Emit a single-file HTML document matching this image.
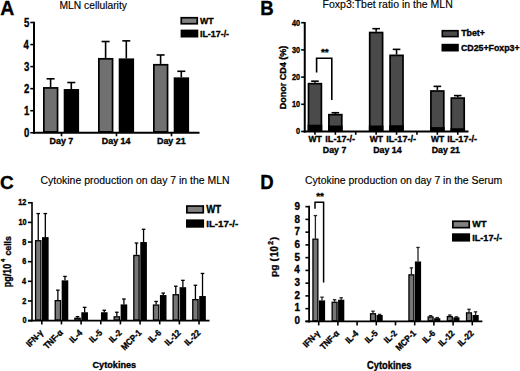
<!DOCTYPE html>
<html><head><meta charset="utf-8"><style>
html,body{margin:0;padding:0;background:#fff;}
svg{display:block;font-family:"Liberation Sans",sans-serif;}
</style></head><body>
<svg width="520" height="371" viewBox="0 0 520 371" fill="#000">
<text font-size="20.5" font-weight="bold" stroke="#000" stroke-width="0.35" transform="translate(0.60,15.00) scale(0.95,1.0) translate(-0.32,0)" >A</text>
<text font-size="10.3" stroke="#000" stroke-width="0.15" transform="translate(60.20,8.60) translate(-0.80,0)" >MLN cellularity</text>
<line x1="34.00" y1="21.80" x2="34.00" y2="133.75" stroke="#000" stroke-width="2"/>
<line x1="30.30" y1="132.75" x2="34.00" y2="132.75" stroke="#000" stroke-width="1.6"/>
<text font-size="12" font-weight="bold" stroke="#000" stroke-width="0.35" transform="translate(29.00,136.85) scale(0.8,1.0) translate(-6.19,0)" >0</text>
<line x1="30.30" y1="110.70" x2="34.00" y2="110.70" stroke="#000" stroke-width="1.6"/>
<text font-size="12" font-weight="bold" stroke="#000" stroke-width="0.35" transform="translate(29.00,114.80) scale(0.8,1.0) translate(-6.38,0)" >1</text>
<line x1="30.30" y1="88.65" x2="34.00" y2="88.65" stroke="#000" stroke-width="1.6"/>
<text font-size="12" font-weight="bold" stroke="#000" stroke-width="0.35" transform="translate(29.00,92.75) scale(0.8,1.0) translate(-6.38,0)" >2</text>
<line x1="30.30" y1="66.60" x2="34.00" y2="66.60" stroke="#000" stroke-width="1.6"/>
<text font-size="12" font-weight="bold" stroke="#000" stroke-width="0.35" transform="translate(29.00,70.70) scale(0.8,1.0) translate(-6.38,0)" >3</text>
<line x1="30.30" y1="44.55" x2="34.00" y2="44.55" stroke="#000" stroke-width="1.6"/>
<text font-size="12" font-weight="bold" stroke="#000" stroke-width="0.35" transform="translate(29.00,48.65) scale(0.8,1.0) translate(-6.75,0)" >4</text>
<line x1="30.30" y1="22.50" x2="34.00" y2="22.50" stroke="#000" stroke-width="1.6"/>
<text font-size="12" font-weight="bold" stroke="#000" stroke-width="0.35" transform="translate(29.00,26.60) scale(0.8,1.0) translate(-6.38,0)" >5</text>
<line x1="33.00" y1="132.75" x2="199.50" y2="132.75" stroke="#000" stroke-width="2"/>
<line x1="61.50" y1="132.75" x2="61.50" y2="136.30" stroke="#000" stroke-width="1.6"/>
<text font-size="8.9" font-weight="bold" stroke="#000" stroke-width="0.35" transform="translate(61.50,143.60) translate(-11.97,0)" >Day 7</text>
<line x1="116.50" y1="132.75" x2="116.50" y2="136.30" stroke="#000" stroke-width="1.6"/>
<text font-size="8.9" font-weight="bold" stroke="#000" stroke-width="0.35" transform="translate(116.50,143.60) translate(-14.66,0)" >Day 14</text>
<line x1="171.50" y1="132.75" x2="171.50" y2="136.30" stroke="#000" stroke-width="1.6"/>
<text font-size="8.9" font-weight="bold" stroke="#000" stroke-width="0.35" transform="translate(171.50,143.60) translate(-14.52,0)" >Day 21</text>
<line x1="50.60" y1="78.79" x2="50.60" y2="87.07" stroke="#000" stroke-width="1.6"/>
<line x1="46.60" y1="78.79" x2="54.60" y2="78.79" stroke="#000" stroke-width="1.6"/>
<rect x="43.85" y="87.92" width="13.70" height="43.98" fill="#707070" stroke="#000" stroke-width="1.7"/>
<line x1="71.30" y1="82.53" x2="71.30" y2="89.05" stroke="#000" stroke-width="1.6"/>
<line x1="67.30" y1="82.53" x2="75.30" y2="82.53" stroke="#000" stroke-width="1.6"/>
<rect x="64.55" y="89.90" width="13.70" height="42.00" fill="#000" stroke="#000" stroke-width="1.7"/>
<line x1="105.60" y1="41.52" x2="105.60" y2="57.96" stroke="#000" stroke-width="1.6"/>
<line x1="101.60" y1="41.52" x2="109.60" y2="41.52" stroke="#000" stroke-width="1.6"/>
<rect x="98.85" y="58.81" width="13.70" height="73.09" fill="#707070" stroke="#000" stroke-width="1.7"/>
<line x1="126.30" y1="40.86" x2="126.30" y2="58.40" stroke="#000" stroke-width="1.6"/>
<line x1="122.30" y1="40.86" x2="130.30" y2="40.86" stroke="#000" stroke-width="1.6"/>
<rect x="119.55" y="59.25" width="13.70" height="72.65" fill="#000" stroke="#000" stroke-width="1.7"/>
<line x1="160.60" y1="54.97" x2="160.60" y2="63.91" stroke="#000" stroke-width="1.6"/>
<line x1="156.60" y1="54.97" x2="164.60" y2="54.97" stroke="#000" stroke-width="1.6"/>
<rect x="153.85" y="64.76" width="13.70" height="67.14" fill="#707070" stroke="#000" stroke-width="1.7"/>
<line x1="181.30" y1="71.29" x2="181.30" y2="77.36" stroke="#000" stroke-width="1.6"/>
<line x1="177.30" y1="71.29" x2="185.30" y2="71.29" stroke="#000" stroke-width="1.6"/>
<rect x="174.55" y="78.21" width="13.70" height="53.69" fill="#000" stroke="#000" stroke-width="1.7"/>
<rect x="181.25" y="17.75" width="16.00" height="6.00" fill="#808080" stroke="#000" stroke-width="1.7"/>
<rect x="181.45" y="30.45" width="16.00" height="6.20" fill="#000" stroke="#000" stroke-width="1.7"/>
<text font-size="8.8" font-weight="bold" stroke="#000" stroke-width="0.32" transform="translate(199.90,24.00) scale(1.0,1.08) translate(0.00,0)" >WT</text>
<text font-size="8.9" font-weight="bold" stroke="#000" stroke-width="0.32" transform="translate(200.50,37.00) scale(1.0,1.08) translate(-0.56,0)" >IL-17-/-</text>
<text font-size="18.6" font-weight="bold" stroke="#000" stroke-width="0.32" transform="translate(261.50,14.60) scale(1.0,1.1) translate(-1.16,0)" >B</text>
<text font-size="10.5" stroke="#000" stroke-width="0.15" transform="translate(323.40,7.90) translate(-0.82,0)" >Foxp3:Tbet ratio in the MLN</text>
<line x1="304.75" y1="22.00" x2="304.75" y2="132.50" stroke="#000" stroke-width="2"/>
<line x1="301.20" y1="131.50" x2="304.75" y2="131.50" stroke="#000" stroke-width="1.6"/>
<text font-size="8.3" font-weight="bold" stroke="#000" stroke-width="0.35" transform="translate(299.80,134.40) scale(0.88,1.0) translate(-4.28,0)" >0</text>
<line x1="301.20" y1="104.30" x2="304.75" y2="104.30" stroke="#000" stroke-width="1.6"/>
<text font-size="8.3" font-weight="bold" stroke="#000" stroke-width="0.35" transform="translate(299.80,107.20) scale(0.88,1.0) translate(-8.90,0)" >10</text>
<line x1="301.20" y1="77.10" x2="304.75" y2="77.10" stroke="#000" stroke-width="1.6"/>
<text font-size="8.3" font-weight="bold" stroke="#000" stroke-width="0.35" transform="translate(299.80,80.00) scale(0.88,1.0) translate(-8.90,0)" >20</text>
<line x1="301.20" y1="49.90" x2="304.75" y2="49.90" stroke="#000" stroke-width="1.6"/>
<text font-size="8.3" font-weight="bold" stroke="#000" stroke-width="0.35" transform="translate(299.80,52.80) scale(0.88,1.0) translate(-8.90,0)" >30</text>
<line x1="301.20" y1="22.70" x2="304.75" y2="22.70" stroke="#000" stroke-width="1.6"/>
<text font-size="8.3" font-weight="bold" stroke="#000" stroke-width="0.35" transform="translate(299.80,25.60) scale(0.88,1.0) translate(-8.90,0)" >40</text>
<text font-size="9.2" font-weight="bold" stroke="#000" stroke-width="0.35" transform="translate(285.50,108.60) rotate(-90) scale(0.98,1.0) translate(-0.57,0)" >Donor CD4 (%)</text>
<line x1="303.75" y1="131.50" x2="468.50" y2="131.50" stroke="#000" stroke-width="2"/>
<line x1="314.95" y1="131.50" x2="314.95" y2="134.80" stroke="#000" stroke-width="1.6"/>
<line x1="335.35" y1="131.50" x2="335.35" y2="134.80" stroke="#000" stroke-width="1.6"/>
<line x1="355.75" y1="131.50" x2="355.75" y2="134.80" stroke="#000" stroke-width="1.6"/>
<line x1="376.15" y1="131.50" x2="376.15" y2="134.80" stroke="#000" stroke-width="1.6"/>
<line x1="396.55" y1="131.50" x2="396.55" y2="134.80" stroke="#000" stroke-width="1.6"/>
<line x1="416.95" y1="131.50" x2="416.95" y2="134.80" stroke="#000" stroke-width="1.6"/>
<line x1="437.35" y1="131.50" x2="437.35" y2="134.80" stroke="#000" stroke-width="1.6"/>
<line x1="457.75" y1="131.50" x2="457.75" y2="134.80" stroke="#000" stroke-width="1.6"/>
<line x1="314.95" y1="81.18" x2="314.95" y2="82.81" stroke="#000" stroke-width="1.6"/>
<line x1="311.15" y1="81.18" x2="318.75" y2="81.18" stroke="#000" stroke-width="1.6"/>
<rect x="308.50" y="83.66" width="12.90" height="46.99" fill="#4a4a4a" stroke="#000" stroke-width="1.7"/>
<rect x="307.65" y="124.70" width="14.60" height="6.80" fill="#000"/>
<line x1="335.35" y1="112.73" x2="335.35" y2="113.82" stroke="#000" stroke-width="1.6"/>
<line x1="331.55" y1="112.73" x2="339.15" y2="112.73" stroke="#000" stroke-width="1.6"/>
<rect x="328.90" y="114.67" width="12.90" height="15.98" fill="#4a4a4a" stroke="#000" stroke-width="1.7"/>
<rect x="328.05" y="125.52" width="14.60" height="5.98" fill="#000"/>
<line x1="376.15" y1="28.68" x2="376.15" y2="31.68" stroke="#000" stroke-width="1.6"/>
<line x1="372.35" y1="28.68" x2="379.95" y2="28.68" stroke="#000" stroke-width="1.6"/>
<rect x="369.70" y="32.53" width="12.90" height="98.12" fill="#4a4a4a" stroke="#000" stroke-width="1.7"/>
<rect x="368.85" y="125.52" width="14.60" height="5.98" fill="#000"/>
<line x1="396.55" y1="49.36" x2="396.55" y2="54.52" stroke="#000" stroke-width="1.6"/>
<line x1="392.75" y1="49.36" x2="400.35" y2="49.36" stroke="#000" stroke-width="1.6"/>
<rect x="390.10" y="55.37" width="12.90" height="75.28" fill="#4a4a4a" stroke="#000" stroke-width="1.7"/>
<rect x="389.25" y="125.24" width="14.60" height="6.26" fill="#000"/>
<line x1="437.35" y1="86.35" x2="437.35" y2="90.16" stroke="#000" stroke-width="1.6"/>
<line x1="433.55" y1="86.35" x2="441.15" y2="86.35" stroke="#000" stroke-width="1.6"/>
<rect x="430.90" y="91.01" width="12.90" height="39.64" fill="#4a4a4a" stroke="#000" stroke-width="1.7"/>
<rect x="430.05" y="127.15" width="14.60" height="4.35" fill="#000"/>
<line x1="457.75" y1="95.60" x2="457.75" y2="97.23" stroke="#000" stroke-width="1.6"/>
<line x1="453.95" y1="95.60" x2="461.55" y2="95.60" stroke="#000" stroke-width="1.6"/>
<rect x="451.30" y="98.08" width="12.90" height="32.57" fill="#4a4a4a" stroke="#000" stroke-width="1.7"/>
<rect x="450.45" y="128.24" width="14.60" height="3.26" fill="#000"/>
<text font-size="8.5" font-weight="bold" stroke="#000" stroke-width="0.35" transform="translate(308.40,142.20) translate(0.00,0)" >WT</text>
<text font-size="9.1" font-weight="bold" stroke="#000" stroke-width="0.35" transform="translate(325.90,142.20) translate(-0.57,0)" >IL-17-/-</text>
<text font-size="8.8" font-weight="bold" stroke="#000" stroke-width="0.35" transform="translate(323.40,152.70) translate(-0.55,0)" >Day 7</text>
<text font-size="8.5" font-weight="bold" stroke="#000" stroke-width="0.35" transform="translate(369.70,142.20) translate(0.00,0)" >WT</text>
<text font-size="9.1" font-weight="bold" stroke="#000" stroke-width="0.35" transform="translate(386.80,142.20) translate(-0.57,0)" >IL-17-/-</text>
<text font-size="8.8" font-weight="bold" stroke="#000" stroke-width="0.35" transform="translate(373.80,152.70) translate(-0.55,0)" >Day 14</text>
<text font-size="8.5" font-weight="bold" stroke="#000" stroke-width="0.35" transform="translate(430.90,142.20) translate(0.00,0)" >WT</text>
<text font-size="9.1" font-weight="bold" stroke="#000" stroke-width="0.35" transform="translate(447.80,142.20) translate(-0.57,0)" >IL-17-/-</text>
<text font-size="8.8" font-weight="bold" stroke="#000" stroke-width="0.35" transform="translate(432.20,152.70) translate(-0.55,0)" >Day 21</text>
<path d="M316.6 72.5 V58.2 H331.8 V100" fill="none" stroke="#000" stroke-width="1.6"/>
<text font-size="10.0" font-weight="bold" stroke="#000" stroke-width="0.35" transform="translate(324.85,54.90) scale(1.0,0.85) translate(-3.90,0)" >**</text>
<rect x="442.30" y="30.70" width="15.70" height="5.90" fill="#4a4a4a" stroke="#000" stroke-width="1.6"/>
<rect x="442.30" y="44.60" width="15.70" height="6.10" fill="#000" stroke="#000" stroke-width="1.6"/>
<text font-size="8.8" font-weight="bold" stroke="#000" stroke-width="0.35" transform="translate(461.20,36.40) translate(0.00,0)" >Tbet+</text>
<text font-size="8.8" font-weight="bold" stroke="#000" stroke-width="0.35" transform="translate(461.20,51.00) translate(-0.28,0)" >CD25+Foxp3+</text>
<text font-size="19" font-weight="bold" stroke="#000" stroke-width="0.35" transform="translate(0.70,188.60) translate(-0.59,0)" >C</text>
<text font-size="10.48" stroke="#000" stroke-width="0.15" transform="translate(41.00,183.80) translate(-0.49,0)" >Cytokine production on day 7 in the MLN</text>
<line x1="32.00" y1="202.00" x2="32.00" y2="321.60" stroke="#000" stroke-width="1.6"/>
<line x1="27.90" y1="320.60" x2="32.00" y2="320.60" stroke="#000" stroke-width="1.6"/>
<text font-size="8.9" font-weight="bold" stroke="#000" stroke-width="0.35" transform="translate(26.20,323.30) scale(0.82,1.0) translate(-4.59,0)" >0</text>
<line x1="27.90" y1="300.96" x2="32.00" y2="300.96" stroke="#000" stroke-width="1.6"/>
<text font-size="8.9" font-weight="bold" stroke="#000" stroke-width="0.35" transform="translate(26.20,303.66) scale(0.82,1.0) translate(-4.73,0)" >2</text>
<line x1="27.90" y1="281.32" x2="32.00" y2="281.32" stroke="#000" stroke-width="1.6"/>
<text font-size="8.9" font-weight="bold" stroke="#000" stroke-width="0.35" transform="translate(26.20,284.02) scale(0.82,1.0) translate(-5.01,0)" >4</text>
<line x1="27.90" y1="261.68" x2="32.00" y2="261.68" stroke="#000" stroke-width="1.6"/>
<text font-size="8.9" font-weight="bold" stroke="#000" stroke-width="0.35" transform="translate(26.20,264.38) scale(0.82,1.0) translate(-4.73,0)" >6</text>
<line x1="27.90" y1="242.04" x2="32.00" y2="242.04" stroke="#000" stroke-width="1.6"/>
<text font-size="8.9" font-weight="bold" stroke="#000" stroke-width="0.35" transform="translate(26.20,244.74) scale(0.82,1.0) translate(-4.73,0)" >8</text>
<line x1="27.90" y1="222.40" x2="32.00" y2="222.40" stroke="#000" stroke-width="1.6"/>
<text font-size="8.9" font-weight="bold" stroke="#000" stroke-width="0.35" transform="translate(26.20,225.10) scale(0.82,1.0) translate(-9.54,0)" >10</text>
<line x1="27.90" y1="202.76" x2="32.00" y2="202.76" stroke="#000" stroke-width="1.6"/>
<text font-size="8.9" font-weight="bold" stroke="#000" stroke-width="0.35" transform="translate(26.20,205.46) scale(0.82,1.0) translate(-9.68,0)" >12</text>
<text font-size="10.0" font-weight="bold" stroke="#000" stroke-width="0.35" transform="translate(10.70,286.60) rotate(-90) scale(0.9,1.0) translate(-0.62,0)" >pg/10</text>
<text font-size="5.8" font-weight="bold" stroke="#000" stroke-width="0.35" transform="translate(5.10,262.00) rotate(-90) translate(0.00,0)" >4</text>
<text font-size="8.6" font-weight="bold" stroke="#000" stroke-width="0.34" transform="translate(10.70,255.30) rotate(-90) scale(1.02,1.0) translate(-0.27,0)" >cells</text>
<line x1="28.00" y1="320.60" x2="209.50" y2="320.60" stroke="#000" stroke-width="1.8"/>
<line x1="41.83" y1="320.60" x2="41.83" y2="324.40" stroke="#000" stroke-width="1.6"/>
<text font-size="9.0" font-weight="bold" stroke="#000" stroke-width="0.35" transform="translate(43.73,333.40) rotate(-45) scale(0.88,1.0) translate(-22.56,0)" >IFN-&#947;</text>
<line x1="38.23" y1="213.56" x2="38.23" y2="240.08" stroke="#000" stroke-width="1.3"/>
<line x1="36.43" y1="213.56" x2="40.02" y2="213.56" stroke="#000" stroke-width="1.3"/>
<rect x="35.58" y="240.73" width="5.30" height="79.22" fill="#777" stroke="#000" stroke-width="1.3"/>
<line x1="45.33" y1="213.56" x2="45.33" y2="237.13" stroke="#000" stroke-width="1.3"/>
<line x1="43.53" y1="213.56" x2="47.12" y2="213.56" stroke="#000" stroke-width="1.3"/>
<rect x="42.68" y="237.78" width="5.30" height="82.17" fill="#000" stroke="#000" stroke-width="1.3"/>
<line x1="61.47" y1="320.60" x2="61.47" y2="324.40" stroke="#000" stroke-width="1.6"/>
<text font-size="9.0" font-weight="bold" stroke="#000" stroke-width="0.35" transform="translate(63.37,333.40) rotate(-45) scale(0.88,1.0) translate(-25.98,0)" >TNF-&#945;</text>
<line x1="57.87" y1="290.16" x2="57.87" y2="299.98" stroke="#000" stroke-width="1.3"/>
<line x1="56.07" y1="290.16" x2="59.67" y2="290.16" stroke="#000" stroke-width="1.3"/>
<rect x="55.22" y="300.63" width="5.30" height="19.32" fill="#777" stroke="#000" stroke-width="1.3"/>
<line x1="64.97" y1="276.41" x2="64.97" y2="280.34" stroke="#000" stroke-width="1.3"/>
<line x1="63.17" y1="276.41" x2="66.77" y2="276.41" stroke="#000" stroke-width="1.3"/>
<rect x="62.32" y="280.99" width="5.30" height="38.96" fill="#000" stroke="#000" stroke-width="1.3"/>
<line x1="81.12" y1="320.60" x2="81.12" y2="324.40" stroke="#000" stroke-width="1.6"/>
<text font-size="9.0" font-weight="bold" stroke="#000" stroke-width="0.35" transform="translate(83.03,333.40) rotate(-45) scale(0.88,1.0) translate(-16.06,0)" >IL-4</text>
<line x1="77.52" y1="316.67" x2="77.52" y2="317.65" stroke="#000" stroke-width="1.3"/>
<line x1="75.72" y1="316.67" x2="79.32" y2="316.67" stroke="#000" stroke-width="1.3"/>
<rect x="74.88" y="318.30" width="5.30" height="1.65" fill="#777" stroke="#000" stroke-width="1.3"/>
<line x1="84.62" y1="307.34" x2="84.62" y2="312.25" stroke="#000" stroke-width="1.3"/>
<line x1="82.83" y1="307.34" x2="86.42" y2="307.34" stroke="#000" stroke-width="1.3"/>
<rect x="81.98" y="312.90" width="5.30" height="7.05" fill="#000" stroke="#000" stroke-width="1.3"/>
<line x1="100.77" y1="320.60" x2="100.77" y2="324.40" stroke="#000" stroke-width="1.6"/>
<text font-size="9.0" font-weight="bold" stroke="#000" stroke-width="0.35" transform="translate(102.67,333.40) rotate(-45) scale(0.88,1.0) translate(-15.78,0)" >IL-5</text>
<line x1="104.27" y1="310.29" x2="104.27" y2="312.25" stroke="#000" stroke-width="1.3"/>
<line x1="102.47" y1="310.29" x2="106.07" y2="310.29" stroke="#000" stroke-width="1.3"/>
<rect x="101.62" y="312.90" width="5.30" height="7.05" fill="#000" stroke="#000" stroke-width="1.3"/>
<line x1="120.42" y1="320.60" x2="120.42" y2="324.40" stroke="#000" stroke-width="1.6"/>
<text font-size="9.0" font-weight="bold" stroke="#000" stroke-width="0.35" transform="translate(122.33,333.40) rotate(-45) scale(0.88,1.0) translate(-15.78,0)" >IL-2</text>
<line x1="116.82" y1="312.25" x2="116.82" y2="316.18" stroke="#000" stroke-width="1.3"/>
<line x1="115.02" y1="312.25" x2="118.62" y2="312.25" stroke="#000" stroke-width="1.3"/>
<rect x="114.17" y="316.83" width="5.30" height="3.12" fill="#777" stroke="#000" stroke-width="1.3"/>
<line x1="123.92" y1="299.00" x2="123.92" y2="304.40" stroke="#000" stroke-width="1.3"/>
<line x1="122.12" y1="299.00" x2="125.72" y2="299.00" stroke="#000" stroke-width="1.3"/>
<rect x="121.28" y="305.05" width="5.30" height="14.90" fill="#000" stroke="#000" stroke-width="1.3"/>
<line x1="140.07" y1="320.60" x2="140.07" y2="324.40" stroke="#000" stroke-width="1.6"/>
<text font-size="9.0" font-weight="bold" stroke="#000" stroke-width="0.35" transform="translate(141.97,333.40) rotate(-45) scale(0.88,1.0) translate(-27.78,0)" >MCP-1</text>
<line x1="136.47" y1="243.02" x2="136.47" y2="254.81" stroke="#000" stroke-width="1.3"/>
<line x1="134.67" y1="243.02" x2="138.28" y2="243.02" stroke="#000" stroke-width="1.3"/>
<rect x="133.82" y="255.46" width="5.30" height="64.49" fill="#777" stroke="#000" stroke-width="1.3"/>
<line x1="143.57" y1="229.27" x2="143.57" y2="242.04" stroke="#000" stroke-width="1.3"/>
<line x1="141.77" y1="229.27" x2="145.38" y2="229.27" stroke="#000" stroke-width="1.3"/>
<rect x="140.92" y="242.69" width="5.30" height="77.26" fill="#000" stroke="#000" stroke-width="1.3"/>
<line x1="159.72" y1="320.60" x2="159.72" y2="324.40" stroke="#000" stroke-width="1.6"/>
<text font-size="9.0" font-weight="bold" stroke="#000" stroke-width="0.35" transform="translate(161.62,333.40) rotate(-45) scale(0.88,1.0) translate(-15.78,0)" >IL-6</text>
<line x1="156.12" y1="301.45" x2="156.12" y2="304.40" stroke="#000" stroke-width="1.3"/>
<line x1="154.32" y1="301.45" x2="157.93" y2="301.45" stroke="#000" stroke-width="1.3"/>
<rect x="153.47" y="305.05" width="5.30" height="14.90" fill="#777" stroke="#000" stroke-width="1.3"/>
<line x1="163.22" y1="293.10" x2="163.22" y2="295.07" stroke="#000" stroke-width="1.3"/>
<line x1="161.42" y1="293.10" x2="165.03" y2="293.10" stroke="#000" stroke-width="1.3"/>
<rect x="160.57" y="295.72" width="5.30" height="24.23" fill="#000" stroke="#000" stroke-width="1.3"/>
<line x1="179.38" y1="320.60" x2="179.38" y2="324.40" stroke="#000" stroke-width="1.6"/>
<text font-size="9.0" font-weight="bold" stroke="#000" stroke-width="0.35" transform="translate(181.28,333.40) rotate(-45) scale(0.88,1.0) translate(-20.78,0)" >IL-12</text>
<line x1="175.78" y1="286.23" x2="175.78" y2="294.09" stroke="#000" stroke-width="1.3"/>
<line x1="173.97" y1="286.23" x2="177.58" y2="286.23" stroke="#000" stroke-width="1.3"/>
<rect x="173.12" y="294.74" width="5.30" height="25.21" fill="#777" stroke="#000" stroke-width="1.3"/>
<line x1="182.88" y1="280.34" x2="182.88" y2="287.21" stroke="#000" stroke-width="1.3"/>
<line x1="181.07" y1="280.34" x2="184.68" y2="280.34" stroke="#000" stroke-width="1.3"/>
<rect x="180.22" y="287.86" width="5.30" height="32.09" fill="#000" stroke="#000" stroke-width="1.3"/>
<line x1="199.02" y1="320.60" x2="199.02" y2="324.40" stroke="#000" stroke-width="1.6"/>
<text font-size="9.0" font-weight="bold" stroke="#000" stroke-width="0.35" transform="translate(200.92,333.40) rotate(-45) scale(0.88,1.0) translate(-20.78,0)" >IL-22</text>
<line x1="195.42" y1="285.25" x2="195.42" y2="299.00" stroke="#000" stroke-width="1.3"/>
<line x1="193.62" y1="285.25" x2="197.22" y2="285.25" stroke="#000" stroke-width="1.3"/>
<rect x="192.77" y="299.65" width="5.30" height="20.30" fill="#777" stroke="#000" stroke-width="1.3"/>
<line x1="202.52" y1="273.46" x2="202.52" y2="296.05" stroke="#000" stroke-width="1.3"/>
<line x1="200.72" y1="273.46" x2="204.32" y2="273.46" stroke="#000" stroke-width="1.3"/>
<rect x="199.87" y="296.70" width="5.30" height="23.25" fill="#000" stroke="#000" stroke-width="1.3"/>
<text font-size="9.15" font-weight="bold" stroke="#000" stroke-width="0.32" transform="translate(92.80,368.10) scale(1.0,1.08) translate(-0.29,0)" >Cytokines</text>
<rect x="186.85" y="206.05" width="16.40" height="6.70" fill="#808080" stroke="#000" stroke-width="1.7"/>
<rect x="186.85" y="220.25" width="16.40" height="6.60" fill="#000" stroke="#000" stroke-width="1.7"/>
<text font-size="9.2" font-weight="bold" stroke="#000" stroke-width="0.32" transform="translate(206.30,212.80) scale(1.04,1.1) translate(0.00,0)" >WT</text>
<text font-size="9.2" font-weight="bold" stroke="#000" stroke-width="0.33" transform="translate(206.80,227.10) scale(1.06,1.06) translate(-0.57,0)" >IL-17-/-</text>
<text font-size="18.6" font-weight="bold" stroke="#000" stroke-width="0.32" transform="translate(261.50,189.30) scale(1.0,1.1) translate(-1.16,0)" >D</text>
<text font-size="10.45" stroke="#000" stroke-width="0.15" transform="translate(305.50,183.60) translate(-0.49,0)" >Cytokine production on day 7 in the Serum</text>
<line x1="309.10" y1="205.80" x2="309.10" y2="322.40" stroke="#000" stroke-width="1.8"/>
<line x1="305.40" y1="321.40" x2="309.10" y2="321.40" stroke="#000" stroke-width="1.6"/>
<text font-size="10.2" font-weight="bold" stroke="#000" stroke-width="0.35" transform="translate(299.70,323.98) scale(0.97,1.0) translate(-5.26,0)" >0</text>
<line x1="305.40" y1="308.65" x2="309.10" y2="308.65" stroke="#000" stroke-width="1.6"/>
<text font-size="10.2" font-weight="bold" stroke="#000" stroke-width="0.35" transform="translate(299.70,311.31) scale(0.97,1.0) translate(-5.42,0)" >1</text>
<line x1="305.40" y1="295.90" x2="309.10" y2="295.90" stroke="#000" stroke-width="1.6"/>
<text font-size="10.2" font-weight="bold" stroke="#000" stroke-width="0.35" transform="translate(299.70,298.64) scale(0.97,1.0) translate(-5.42,0)" >2</text>
<line x1="305.40" y1="283.15" x2="309.10" y2="283.15" stroke="#000" stroke-width="1.6"/>
<text font-size="10.2" font-weight="bold" stroke="#000" stroke-width="0.35" transform="translate(299.70,285.97) scale(0.97,1.0) translate(-5.42,0)" >3</text>
<line x1="305.40" y1="270.40" x2="309.10" y2="270.40" stroke="#000" stroke-width="1.6"/>
<text font-size="10.2" font-weight="bold" stroke="#000" stroke-width="0.35" transform="translate(299.70,273.30) scale(0.97,1.0) translate(-5.74,0)" >4</text>
<line x1="305.40" y1="257.65" x2="309.10" y2="257.65" stroke="#000" stroke-width="1.6"/>
<text font-size="10.2" font-weight="bold" stroke="#000" stroke-width="0.35" transform="translate(299.70,260.63) scale(0.97,1.0) translate(-5.42,0)" >5</text>
<line x1="305.40" y1="244.90" x2="309.10" y2="244.90" stroke="#000" stroke-width="1.6"/>
<text font-size="10.2" font-weight="bold" stroke="#000" stroke-width="0.35" transform="translate(299.70,247.96) scale(0.97,1.0) translate(-5.42,0)" >6</text>
<line x1="305.40" y1="232.15" x2="309.10" y2="232.15" stroke="#000" stroke-width="1.6"/>
<text font-size="10.2" font-weight="bold" stroke="#000" stroke-width="0.35" transform="translate(299.70,235.29) scale(0.97,1.0) translate(-5.26,0)" >7</text>
<line x1="305.40" y1="219.40" x2="309.10" y2="219.40" stroke="#000" stroke-width="1.6"/>
<text font-size="10.2" font-weight="bold" stroke="#000" stroke-width="0.35" transform="translate(299.70,222.62) scale(0.97,1.0) translate(-5.42,0)" >8</text>
<line x1="305.40" y1="206.65" x2="309.10" y2="206.65" stroke="#000" stroke-width="1.6"/>
<text font-size="10.2" font-weight="bold" stroke="#000" stroke-width="0.35" transform="translate(299.70,209.95) scale(0.97,1.0) translate(-5.42,0)" >9</text>
<text font-size="8.8" font-weight="bold" stroke="#000" stroke-width="0.30" transform="translate(277.40,276.30) rotate(-90) scale(1.17,1.0) translate(-0.55,0)" >pg (</text>
<text font-size="10.4" font-weight="bold" stroke="#000" stroke-width="0.35" transform="translate(277.90,256.30) rotate(-90) scale(0.92,1.0) translate(-0.65,0)" >10</text>
<text font-size="6.5" font-weight="bold" stroke="#000" stroke-width="0.33" transform="translate(272.70,244.60) rotate(-90) scale(1.05,1.0) translate(-0.20,0)" >2</text>
<text font-size="8.8" font-weight="bold" stroke="#000" stroke-width="0.30" transform="translate(277.40,240.30) rotate(-90) scale(1.17,1.0) translate(0.00,0)" >)</text>
<line x1="305.40" y1="321.40" x2="482.40" y2="321.40" stroke="#000" stroke-width="1.8"/>
<line x1="318.70" y1="321.40" x2="318.70" y2="325.40" stroke="#000" stroke-width="1.6"/>
<text font-size="9.0" font-weight="bold" stroke="#000" stroke-width="0.35" transform="translate(320.60,334.00) rotate(-45) scale(0.88,1.0) translate(-22.56,0)" >IFN-&#947;</text>
<line x1="315.40" y1="215.57" x2="315.40" y2="238.52" stroke="#222" stroke-width="1.3"/>
<line x1="313.70" y1="215.57" x2="317.10" y2="215.57" stroke="#222" stroke-width="1.3"/>
<rect x="312.95" y="239.17" width="4.90" height="81.58" fill="#777" stroke="#000" stroke-width="1.3"/>
<line x1="322.00" y1="297.17" x2="322.00" y2="300.36" stroke="#222" stroke-width="1.3"/>
<line x1="320.30" y1="297.17" x2="323.70" y2="297.17" stroke="#222" stroke-width="1.3"/>
<rect x="319.55" y="301.01" width="4.90" height="19.74" fill="#000" stroke="#000" stroke-width="1.3"/>
<line x1="337.90" y1="321.40" x2="337.90" y2="325.40" stroke="#000" stroke-width="1.6"/>
<text font-size="9.0" font-weight="bold" stroke="#000" stroke-width="0.35" transform="translate(339.80,334.00) rotate(-45) scale(0.88,1.0) translate(-25.98,0)" >TNF-&#945;</text>
<line x1="334.60" y1="299.72" x2="334.60" y2="301.64" stroke="#222" stroke-width="1.3"/>
<line x1="332.90" y1="299.72" x2="336.30" y2="299.72" stroke="#222" stroke-width="1.3"/>
<rect x="332.15" y="302.29" width="4.90" height="18.46" fill="#777" stroke="#000" stroke-width="1.3"/>
<line x1="341.20" y1="297.81" x2="341.20" y2="299.72" stroke="#222" stroke-width="1.3"/>
<line x1="339.50" y1="297.81" x2="342.90" y2="297.81" stroke="#222" stroke-width="1.3"/>
<rect x="338.75" y="300.37" width="4.90" height="20.38" fill="#000" stroke="#000" stroke-width="1.3"/>
<line x1="357.10" y1="321.40" x2="357.10" y2="325.40" stroke="#000" stroke-width="1.6"/>
<text font-size="9.0" font-weight="bold" stroke="#000" stroke-width="0.35" transform="translate(359.00,334.00) rotate(-45) scale(0.88,1.0) translate(-16.06,0)" >IL-4</text>
<line x1="376.30" y1="321.40" x2="376.30" y2="325.40" stroke="#000" stroke-width="1.6"/>
<text font-size="9.0" font-weight="bold" stroke="#000" stroke-width="0.35" transform="translate(378.20,334.00) rotate(-45) scale(0.88,1.0) translate(-15.78,0)" >IL-5</text>
<line x1="373.00" y1="311.20" x2="373.00" y2="313.11" stroke="#222" stroke-width="1.3"/>
<line x1="371.30" y1="311.20" x2="374.70" y2="311.20" stroke="#222" stroke-width="1.3"/>
<rect x="370.55" y="313.76" width="4.90" height="6.99" fill="#777" stroke="#000" stroke-width="1.3"/>
<line x1="379.60" y1="314.39" x2="379.60" y2="315.02" stroke="#222" stroke-width="1.3"/>
<line x1="377.90" y1="314.39" x2="381.30" y2="314.39" stroke="#222" stroke-width="1.3"/>
<rect x="377.15" y="315.67" width="4.90" height="5.08" fill="#000" stroke="#000" stroke-width="1.3"/>
<line x1="395.50" y1="321.40" x2="395.50" y2="325.40" stroke="#000" stroke-width="1.6"/>
<text font-size="9.0" font-weight="bold" stroke="#000" stroke-width="0.35" transform="translate(397.40,334.00) rotate(-45) scale(0.88,1.0) translate(-15.78,0)" >IL-2</text>
<line x1="414.70" y1="321.40" x2="414.70" y2="325.40" stroke="#000" stroke-width="1.6"/>
<text font-size="9.0" font-weight="bold" stroke="#000" stroke-width="0.35" transform="translate(416.60,334.00) rotate(-45) scale(0.88,1.0) translate(-27.78,0)" >MCP-1</text>
<line x1="411.40" y1="267.85" x2="411.40" y2="274.22" stroke="#222" stroke-width="1.3"/>
<line x1="409.70" y1="267.85" x2="413.10" y2="267.85" stroke="#222" stroke-width="1.3"/>
<rect x="408.95" y="274.87" width="4.90" height="45.88" fill="#777" stroke="#000" stroke-width="1.3"/>
<line x1="418.00" y1="247.45" x2="418.00" y2="261.47" stroke="#222" stroke-width="1.3"/>
<line x1="416.30" y1="247.45" x2="419.70" y2="247.45" stroke="#222" stroke-width="1.3"/>
<rect x="415.55" y="262.12" width="4.90" height="58.63" fill="#000" stroke="#000" stroke-width="1.3"/>
<line x1="433.90" y1="321.40" x2="433.90" y2="325.40" stroke="#000" stroke-width="1.6"/>
<text font-size="9.0" font-weight="bold" stroke="#000" stroke-width="0.35" transform="translate(435.80,334.00) rotate(-45) scale(0.88,1.0) translate(-15.78,0)" >IL-6</text>
<line x1="430.60" y1="315.66" x2="430.60" y2="316.30" stroke="#222" stroke-width="1.3"/>
<line x1="428.90" y1="315.66" x2="432.30" y2="315.66" stroke="#222" stroke-width="1.3"/>
<rect x="428.15" y="316.95" width="4.90" height="3.80" fill="#777" stroke="#000" stroke-width="1.3"/>
<line x1="437.20" y1="317.57" x2="437.20" y2="318.21" stroke="#222" stroke-width="1.3"/>
<line x1="435.50" y1="317.57" x2="438.90" y2="317.57" stroke="#222" stroke-width="1.3"/>
<rect x="434.75" y="318.86" width="4.90" height="1.89" fill="#000" stroke="#000" stroke-width="1.3"/>
<line x1="453.10" y1="321.40" x2="453.10" y2="325.40" stroke="#000" stroke-width="1.6"/>
<text font-size="9.0" font-weight="bold" stroke="#000" stroke-width="0.35" transform="translate(455.00,334.00) rotate(-45) scale(0.88,1.0) translate(-20.78,0)" >IL-12</text>
<line x1="449.80" y1="315.02" x2="449.80" y2="315.92" stroke="#222" stroke-width="1.3"/>
<line x1="448.10" y1="315.02" x2="451.50" y2="315.02" stroke="#222" stroke-width="1.3"/>
<rect x="447.35" y="316.57" width="4.90" height="4.18" fill="#777" stroke="#000" stroke-width="1.3"/>
<line x1="456.40" y1="316.81" x2="456.40" y2="317.32" stroke="#222" stroke-width="1.3"/>
<line x1="454.70" y1="316.81" x2="458.10" y2="316.81" stroke="#222" stroke-width="1.3"/>
<rect x="453.95" y="317.97" width="4.90" height="2.78" fill="#000" stroke="#000" stroke-width="1.3"/>
<line x1="472.30" y1="321.40" x2="472.30" y2="325.40" stroke="#000" stroke-width="1.6"/>
<text font-size="9.0" font-weight="bold" stroke="#000" stroke-width="0.35" transform="translate(474.20,334.00) rotate(-45) scale(0.88,1.0) translate(-20.78,0)" >IL-22</text>
<line x1="469.00" y1="309.29" x2="469.00" y2="312.22" stroke="#222" stroke-width="1.3"/>
<line x1="467.30" y1="309.29" x2="470.70" y2="309.29" stroke="#222" stroke-width="1.3"/>
<rect x="466.55" y="312.87" width="4.90" height="7.88" fill="#777" stroke="#000" stroke-width="1.3"/>
<line x1="475.60" y1="311.84" x2="475.60" y2="315.02" stroke="#222" stroke-width="1.3"/>
<line x1="473.90" y1="311.84" x2="477.30" y2="311.84" stroke="#222" stroke-width="1.3"/>
<rect x="473.15" y="315.67" width="4.90" height="5.08" fill="#000" stroke="#000" stroke-width="1.3"/>
<path d="M315 208.8 V202.3 H323.6 V282.5" fill="none" stroke="#000" stroke-width="1.5"/>
<text font-size="10.0" font-weight="bold" stroke="#000" stroke-width="0.35" transform="translate(320.10,198.80) scale(1.0,0.85) translate(-3.90,0)" >**</text>
<text font-size="9.3" font-weight="bold" stroke="#000" stroke-width="0.32" transform="translate(367.40,369.10) scale(1.0,1.08) translate(-0.29,0)" >Cytokines</text>
<rect x="452.85" y="221.25" width="16.40" height="6.40" fill="#808080" stroke="#000" stroke-width="1.7"/>
<rect x="452.85" y="234.15" width="16.40" height="6.60" fill="#000" stroke="#000" stroke-width="1.7"/>
<text font-size="8.6" font-weight="bold" stroke="#000" stroke-width="0.33" transform="translate(472.30,227.30) scale(1.06,1.0) translate(0.00,0)" >WT</text>
<text font-size="8.6" font-weight="bold" stroke="#000" stroke-width="0.33" transform="translate(472.80,240.60) scale(1.06,1.0) translate(-0.54,0)" >IL-17-/-</text>
</svg></body></html>
